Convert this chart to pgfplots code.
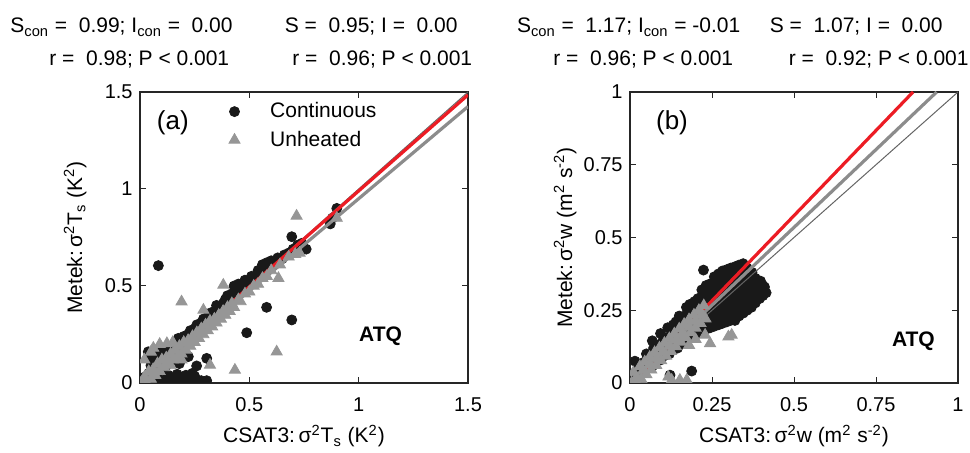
\documentclass[border=0pt]{standalone}
\usepackage{fontspec}
\setmainfont{Liberation Sans}
\usepackage{pgfplots}
\pgfplotsset{compat=1.18}

\definecolor{fitred}{RGB}{236,28,36}
\definecolor{fitgray}{RGB}{140,140,140}
\definecolor{trigray}{RGB}{150,150,150}
\definecolor{onegray}{RGB}{100,100,100}
\definecolor{dotblack}{RGB}{25,25,25}

\pgfplotsset{
  panel/.style={
    scale only axis, width=164pt, height=145.5pt, anchor=south west,
    xmin=0, ymin=0,
    clip marker paths=true,
    tick align=inside, major tick length=3pt,
    axis line style={black!85, line width=0.6pt},
    tick style={black!85, line width=0.5pt},
    tick label style={font=\fontsize{10}{12}\selectfont},
    /pgf/number format/assume math mode=true,
    label style={font=\fontsize{10.5}{12.6}\selectfont},
    xlabel style={at={(rel axis cs:0.5,0)}, anchor=base, yshift=-30pt},
    ylabel style={at={(rel axis cs:0,0.5)}, anchor=base, yshift=29pt},
    xticklabel style={yshift=-3.5pt},
  },
  % legend image: one mark with empty room after it
  wideimage/.style={legend image code/.code={
      \path (0cm,0cm) (1.1cm,0cm);
      \draw[mark repeat=2,mark phase=2,##1] plot coordinates {(0cm,0cm) (0.55cm,0cm) (1.1cm,0cm)};}},
  cont/.style={only marks, mark=*, mark size=2.5pt, mark options={fill=dotblack, draw=dotblack}, wideimage},
  unh/.style={only marks, mark=triangle*, mark size=3.2pt, mark options={fill=trigray, draw=trigray}, wideimage},
  oneone/.style={onegray, line width=0.5pt, forget plot},
  redfit/.style={fitred, line width=1.6pt, forget plot},
  grayfit/.style={fitgray, line width=1.6pt, forget plot},
}

\begin{document}
\fontsize{10.5}{12.6}\selectfont
\begin{tikzpicture}
\path[use as bounding box] (0,0) rectangle (485pt,226.5pt);

% ---------- panel (a): sonic temperature variance ----------
\begin{axis}[panel, at={(70pt,35pt)},
  xmax=1.5, ymax=1.5,
  xtick={0,0.5,1,1.5}, xticklabels={0,0.5,1,1.5},
  ytick={0,0.5,1,1.5}, yticklabels={0,0.5,1,1.5},
  xlabel={CSAT3:\,σ\textsuperscript{2}T\textsubscript{s} (K\textsuperscript{2})},
  ylabel={Metek:\,σ\textsuperscript{2}T\textsubscript{s} (K\textsuperscript{2})},
  legend style={draw=none, fill=none, at={(rel axis cs:0.172,0.993)}, anchor=north west,
    font=\fontsize{10.5}{12.6}\selectfont, row sep=1pt},
  legend cell align=left,
]
\addplot[cont] coordinates {
  (0.02,0.03) (0.04,0.05) (0.05,0.09) (0.07,0.08) (0.08,0.12) (0.10,0.11)
  (0.11,0.14) (0.13,0.15) (0.14,0.17) (0.16,0.18) (0.17,0.21) (0.19,0.22)
  (0.20,0.24) (0.22,0.25) (0.23,0.27) (0.25,0.28) (0.26,0.30) (0.28,0.31)
  (0.29,0.33) (0.31,0.34) (0.32,0.36) (0.34,0.37) (0.35,0.40) (0.36,0.385)
  (0.38,0.41) (0.39,0.43) (0.40,0.45) (0.42,0.46) (0.43,0.50) (0.44,0.48)
  (0.45,0.51) (0.46,0.49) (0.47,0.50) (0.48,0.53) (0.50,0.52) (0.51,0.55)
  (0.53,0.54) (0.54,0.58) (0.55,0.57) (0.56,0.61) (0.57,0.59) (0.58,0.62)
  (0.59,0.60) (0.60,0.63) (0.62,0.62) (0.63,0.645) (0.65,0.64) (0.66,0.66)
  (0.68,0.67) (0.70,0.69) (0.72,0.71) (0.74,0.72) (0.76,0.69) (0.87,0.82)
  (0.88,0.85) (0.90,0.90) (0.694,0.754)
  (0.084,0.605) (0.579,0.39) (0.694,0.325) (0.488,0.259) (0.305,0.127)
  (0.175,0.23) (0.038,0.161) (0.221,0.136) (0.259,0.088) (0.24,0.05)
  (0.08,0.012) (0.10,0.012) (0.12,0.012) (0.14,0.012) (0.16,0.012) (0.18,0.012)
  (0.20,0.012) (0.22,0.012) (0.24,0.012) (0.26,0.012) (0.28,0.012) (0.305,0.012)
  (0.13,0.04) (0.17,0.045) (0.21,0.04) (0.25,0.035)
  (0.01,0.01) (0.03,0.00) (0.05,0.02) (0.06,0.05) (0.09,0.06) (0.12,0.09)
  (0.04,0.13) (0.07,0.15) (0.10,0.17) (0.15,0.12) (0.18,0.10) (0.20,0.15)
};
\addlegendentry{Continuous}
\addplot[oneone] coordinates {(0,0) (1.5,1.5)};
\addplot[redfit] coordinates {(0,0) (1.5,1.485)};
\addplot[grayfit] coordinates {(0,0) (1.5,1.425)};
\addplot[unh] coordinates {
  (0.00,0.00) (0.02,0.03) (0.03,0.00) (0.04,0.06) (0.05,0.02) (0.06,0.07)
  (0.07,0.04) (0.08,0.10) (0.09,0.06) (0.10,0.12) (0.11,0.08) (0.12,0.13)
  (0.13,0.10) (0.14,0.15) (0.15,0.12) (0.16,0.17) (0.17,0.13) (0.18,0.19)
  (0.19,0.15) (0.20,0.21) (0.21,0.17) (0.22,0.22) (0.23,0.19) (0.24,0.24)
  (0.25,0.21) (0.26,0.26) (0.27,0.23) (0.28,0.28) (0.29,0.25) (0.30,0.30)
  (0.31,0.27) (0.32,0.32) (0.33,0.29) (0.34,0.33) (0.35,0.31) (0.36,0.35)
  (0.37,0.33) (0.38,0.37) (0.39,0.35) (0.40,0.39) (0.41,0.37) (0.42,0.41)
  (0.43,0.39) (0.45,0.43) (0.46,0.42) (0.48,0.46) (0.50,0.47) (0.52,0.50)
  (0.54,0.51) (0.56,0.54) (0.58,0.55) (0.60,0.58) (0.64,0.61) (0.68,0.65)
  (0.381,0.505) (0.19,0.419) (0.633,0.54) (0.71,0.664) (0.625,0.161)
  (0.434,0.067) (0.32,0.093) (0.29,0.376) (0.123,0.204) (0.061,0.18)
  (0.716,0.861) (0.90,0.85) (0.73,0.67) (0.09,0.20) (0.15,0.21) (0.02,0.12)
  (0.05,0.16) (0.19,0.12) (0.14,0.09)
};
\addlegendentry{Unheated}
\node[font=\fontsize{13}{15}\selectfont] at (axis cs:0.15,1.34) {(a)};
\node[font=\fontsize{10.5}{12.6}\selectfont\bfseries] at (axis cs:1.10,0.239) {ATQ};
\end{axis}

% ---------- panel (b): vertical velocity variance ----------
\begin{axis}[panel, at={(315pt,35pt)},
  xmax=1, ymax=1,
  xtick={0,0.25,0.5,0.75,1}, xticklabels={0,0.25,0.5,0.75,1},
  ytick={0,0.25,0.5,0.75,1}, yticklabels={0,0.25,0.5,0.75,1},
  xlabel={CSAT3:\,σ\textsuperscript{2}w (m\textsuperscript{2} s\textsuperscript{-2})},
  ylabel={Metek:\,σ\textsuperscript{2}w (m\textsuperscript{2} s\textsuperscript{-2})},
]
\addplot[cont] coordinates {
  (0.02,0.02) (0.025,0.05) (0.015,0.075)
  (0.045,0.04) (0.04,0.07) (0.05,0.10)
  (0.07,0.06) (0.065,0.09) (0.072,0.12) (0.068,0.145)
  (0.095,0.08) (0.09,0.11) (0.098,0.14) (0.093,0.17)
  (0.12,0.10) (0.118,0.13) (0.123,0.16) (0.115,0.19) (0.122,0.027)
  (0.145,0.12) (0.142,0.15) (0.148,0.18) (0.14,0.21) (0.15,0.23)
  (0.17,0.14) (0.168,0.17) (0.173,0.20) (0.165,0.23) (0.172,0.26)
  (0.195,0.16) (0.19,0.19) (0.198,0.22) (0.192,0.25) (0.197,0.28) (0.188,0.041)
  (0.22,0.18) (0.218,0.21) (0.224,0.24) (0.216,0.27) (0.222,0.30) (0.219,0.32) (0.224,0.388)
  (0.245,0.19) (0.242,0.22) (0.248,0.25) (0.24,0.28) (0.247,0.31) (0.243,0.34)
  (0.27,0.20) (0.268,0.23) (0.273,0.26) (0.266,0.29) (0.272,0.32) (0.268,0.35) (0.27,0.375)
  (0.295,0.21) (0.29,0.24) (0.298,0.27) (0.293,0.30) (0.297,0.33) (0.291,0.36) (0.296,0.39)
  (0.32,0.215) (0.318,0.25) (0.323,0.28) (0.316,0.31) (0.322,0.34) (0.319,0.37) (0.321,0.40)
  (0.345,0.24) (0.342,0.27) (0.348,0.30) (0.341,0.33) (0.347,0.36) (0.343,0.39) (0.345,0.41)
  (0.37,0.26) (0.368,0.29) (0.373,0.32) (0.366,0.35) (0.372,0.38)
  (0.395,0.29) (0.392,0.32) (0.398,0.35)
  (0.415,0.31) (0.41,0.33)
  (0.032,0.035) (0.057,0.055) (0.057,0.085) (0.082,0.075) (0.082,0.105) (0.082,0.13)
  (0.107,0.095) (0.107,0.125) (0.107,0.155) (0.132,0.115) (0.132,0.145) (0.132,0.175)
  (0.132,0.20) (0.157,0.135) (0.157,0.165) (0.157,0.195) (0.157,0.225) (0.182,0.155)
  (0.182,0.185) (0.182,0.215) (0.182,0.245) (0.182,0.27) (0.207,0.17) (0.207,0.20)
  (0.207,0.23) (0.207,0.26) (0.207,0.29) (0.232,0.185) (0.232,0.215) (0.232,0.245)
  (0.232,0.275) (0.232,0.305) (0.232,0.335) (0.257,0.195) (0.257,0.225) (0.257,0.255)
  (0.257,0.285) (0.257,0.315) (0.257,0.345) (0.257,0.365) (0.282,0.205) (0.282,0.235)
  (0.282,0.265) (0.282,0.295) (0.282,0.325) (0.282,0.355) (0.282,0.385) (0.307,0.215)
  (0.307,0.245) (0.307,0.275) (0.307,0.305) (0.307,0.335) (0.307,0.365) (0.307,0.395)
  (0.332,0.23) (0.332,0.26) (0.332,0.29) (0.332,0.32) (0.332,0.35) (0.332,0.38)
  (0.332,0.405) (0.357,0.25) (0.357,0.28) (0.357,0.31) (0.357,0.34) (0.357,0.37)
  (0.357,0.395) (0.382,0.275) (0.382,0.305) (0.382,0.335) (0.382,0.36) (0.405,0.30)
  (0.405,0.335)
};
\addplot[oneone] coordinates {(0,0) (1,1)};
\addplot[redfit] coordinates {(0,-0.01) (0.863,1)};
\addplot[grayfit] coordinates {(0,0) (0.935,1)};
\addplot[unh] coordinates {
  (0.005,0.0) (0.01,0.036) (0.03,0.057) (0.045,0.073) (0.06,0.089) (0.075,0.105)
  (0.09,0.121) (0.105,0.137) (0.12,0.153) (0.135,0.169) (0.15,0.186) (0.165,0.202)
  (0.18,0.218) (0.195,0.234) (0.21,0.25) (0.225,0.266)
  (0.02,0.0) (0.035,0.012) (0.05,0.029) (0.065,0.045) (0.08,0.061) (0.095,0.077)
  (0.11,0.093) (0.125,0.109) (0.14,0.125) (0.155,0.141) (0.17,0.157) (0.185,0.173)
  (0.2,0.189) (0.215,0.205) (0.23,0.221)
  (0.02,0.02) (0.04,0.043) (0.06,0.064) (0.08,0.086) (0.10,0.107) (0.12,0.128)
  (0.14,0.15) (0.16,0.171) (0.18,0.193) (0.20,0.214) (0.22,0.235)
  (0.244,0.136) (0.30,0.159) (0.31,0.165) (0.229,0.165) (0.127,0.01)
  (0.152,0.01) (0.173,0.01) (0.117,0.021) (0.20,0.15) (0.18,0.13)
};
\node[font=\fontsize{13}{15}\selectfont] at (axis cs:0.128,0.893) {(b)};
\node[font=\fontsize{10.5}{12.6}\selectfont\bfseries] at (axis cs:0.864,0.142) {ATQ};
\end{axis}

% ---------- statistics above the panels ----------
\node[anchor=base west, inner sep=0pt] at (5pt,210pt) {S\textsubscript{con} =~~0.99; I\textsubscript{con} =~~0.00};
\node[anchor=base east, inner sep=0pt] at (229pt,210pt) {S =~~0.95; I =~~0.00};
\node[anchor=base west, inner sep=0pt] at (24.5pt,193.5pt) {r =~~0.98; P < 0.001};
\node[anchor=base east, inner sep=0pt] at (236.3pt,193.5pt) {r =~~0.96; P < 0.001};
\node[anchor=base west, inner sep=0pt] at (258.3pt,210pt) {S\textsubscript{con} =~~1.17; I\textsubscript{con} = -0.01};
\node[anchor=base east, inner sep=0pt] at (471.5pt,210pt) {S =~~1.07; I =~~0.00};
\node[anchor=base west, inner sep=0pt] at (276.5pt,193.5pt) {r =~~0.96; P < 0.001};
\node[anchor=base east, inner sep=0pt] at (484.5pt,193.5pt) {r =~~0.92; P < 0.001};
\end{tikzpicture}
\end{document}
